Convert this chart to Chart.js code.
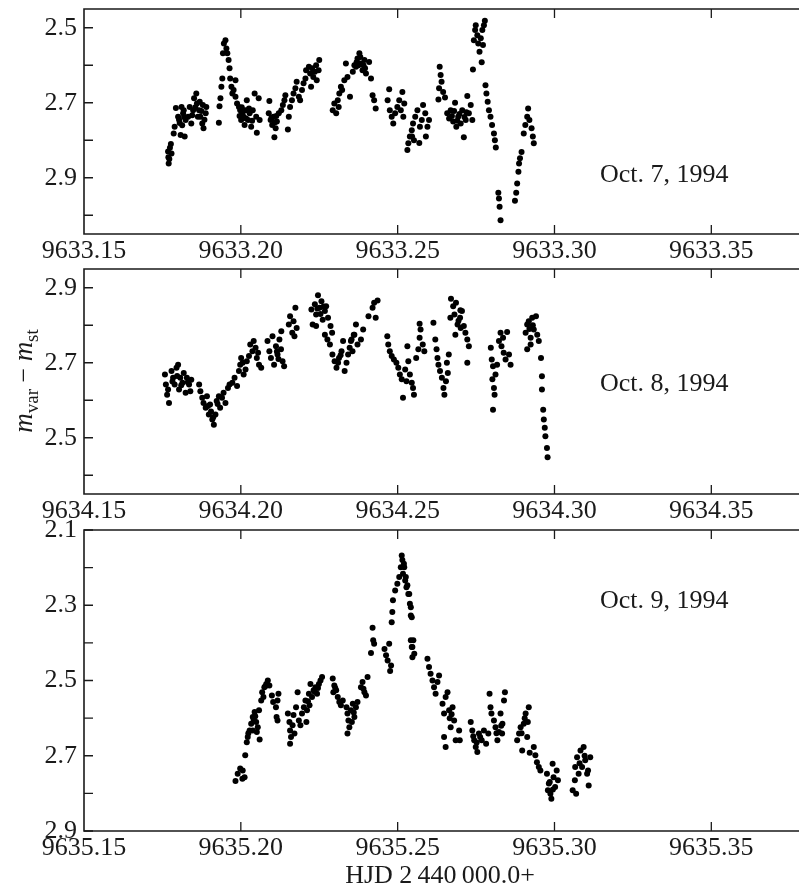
<!DOCTYPE html>
<html>
<head>
<meta charset="utf-8">
<script src="https://cdn.jsdelivr.net/npm/chart.js@4.4.1/dist/chart.umd.min.js"></script>
<style>
  html, body { margin: 0; padding: 0; background: #fff; }
  #lienzo { position: relative; width: 799px; height: 890px; overflow: hidden; }
  #lienzo canvas { position: absolute; left: 0; }
</style>
</head>
<body>
<div id="lienzo">
  <canvas id="panelOct7" width="799" height="270" style="top:0px"></canvas>
  <canvas id="panelOct8" width="799" height="270" style="top:260px"></canvas>
  <canvas id="panelOct9" width="799" height="380" style="top:510px"></canvas>
</div>
<script>
// HJD - 2440000: dia entero + fraccion, magnitud m_var - m_st
const diaOct7 = 9633;
const diaOct8 = 9634;
const diaOct9 = 9635;

const ticksX = [0.15, 0.20, 0.25, 0.30, 0.35];
const ticksYOct7 = [2.5, 2.6, 2.7, 2.8, 2.9, 3.0];
const ticksYOct8 = [2.4, 2.5, 2.6, 2.7, 2.8, 2.9];
const ticksYOct9 = [2.1, 2.2, 2.3, 2.4, 2.5, 2.6, 2.7, 2.8, 2.9];

const datosOct7 = [
  [0.1768,2.830],[0.1769,2.845],[0.1770,2.862],[0.1772,2.850],[0.1774,2.820],[0.1777,2.810],[0.1779,2.835],
  [0.1786,2.782],[0.1789,2.764],[0.1793,2.714],[0.1800,2.737],[0.1803,2.745],[0.1805,2.754],[0.1808,2.786],[0.1811,2.711],
  [0.1813,2.760],[0.1816,2.728],[0.1818,2.720],[0.1819,2.738],[0.1821,2.790],[0.1824,2.746],
  [0.1832,2.737],[0.1837,2.711],[0.1842,2.755],[0.1845,2.733],[0.1848,2.720],[0.1851,2.688],[0.1855,2.712],[0.1858,2.675],
  [0.1860,2.702],[0.1863,2.737],[0.1867,2.720],[0.1869,2.697],[0.1871,2.737],[0.1874,2.722],[0.1877,2.755],[0.1879,2.706],
  [0.1881,2.768],[0.1884,2.745],[0.1888,2.728],[0.1890,2.711],
  [0.1930,2.753],[0.1932,2.709],[0.1935,2.688],[0.1938,2.657],[0.1941,2.635],[0.1943,2.568],[0.1946,2.542],[0.1951,2.533],
  [0.1954,2.555],[0.1957,2.568],[0.1961,2.586],[0.1964,2.608],[0.1966,2.635],[0.1970,2.657],[0.1983,2.640],
  [0.1973,2.675],[0.1977,2.666],[0.1983,2.684],[0.1988,2.702],[0.1994,2.711],[0.1996,2.735],[0.1998,2.720],[0.2001,2.746],
  [0.2003,2.712],[0.2005,2.728],[0.2009,2.737],[0.2012,2.759],[0.2015,2.720],[0.2017,2.742],[0.2019,2.693],[0.2023,2.746],
  [0.2026,2.715],[0.2028,2.728],[0.2033,2.764],[0.2036,2.748],[0.2038,2.720],[0.2044,2.675],[0.2049,2.737],[0.2051,2.780],
  [0.2057,2.688],[0.2060,2.746],
  [0.2089,2.728],[0.2091,2.695],[0.2095,2.746],[0.2098,2.740],[0.2100,2.759],[0.2104,2.737],[0.2107,2.792],[0.2109,2.752],
  [0.2111,2.768],[0.2113,2.735],[0.2115,2.750],[0.2121,2.728],
  [0.2129,2.720],[0.2134,2.706],[0.2139,2.693],[0.2142,2.680],[0.2150,2.771],[0.2153,2.737],[0.2157,2.711],[0.2163,2.693],
  [0.2168,2.675],[0.2174,2.661],[0.2178,2.644],[0.2185,2.684],[0.2189,2.693],[0.2195,2.666],[0.2200,2.648],[0.2206,2.635],
  [0.2208,2.613],[0.2217,2.604],[0.2221,2.622],[0.2224,2.657],[0.2227,2.608],[0.2231,2.631],[0.2236,2.617],[0.2240,2.600],
  [0.2242,2.640],[0.2248,2.613],[0.2250,2.586],
  [0.2293,2.720],[0.2298,2.702],[0.2304,2.728],[0.2309,2.693],[0.2312,2.711],[0.2314,2.675],[0.2319,2.657],[0.2323,2.666],
  [0.2330,2.640],[0.2335,2.595],[0.2340,2.631],[0.2348,2.684],[0.2357,2.617],[0.2362,2.600],[0.2367,2.604],[0.2369,2.592],
  [0.2372,2.582],[0.2375,2.600],[0.2378,2.568],[0.2381,2.578],[0.2383,2.595],[0.2388,2.613],[0.2391,2.600],[0.2394,2.586],
  [0.2396,2.608],[0.2399,2.622],[0.2409,2.591],[0.2415,2.635],
  [0.2420,2.680],[0.2425,2.693],[0.2430,2.715],[0.2468,2.693],[0.2473,2.664],
  [0.2475,2.720],[0.2481,2.737],[0.2486,2.755],[0.2492,2.728],[0.2499,2.711],[0.2505,2.693],[0.2510,2.720],[0.2515,2.671],
  [0.2518,2.737],[0.2521,2.702],
  [0.2531,2.826],[0.2534,2.808],[0.2539,2.790],[0.2545,2.773],[0.2546,2.790],[0.2549,2.755],[0.2552,2.800],[0.2556,2.737],
  [0.2563,2.720],[0.2569,2.807],[0.2571,2.764],[0.2577,2.746],[0.2581,2.706],[0.2588,2.728],[0.2590,2.790],[0.2595,2.764],
  [0.2600,2.746],
  [0.2630,2.691],[0.2632,2.661],[0.2634,2.604],[0.2637,2.626],[0.2640,2.644],[0.2645,2.671],[0.2651,2.686],
  [0.2658,2.728],[0.2664,2.742],[0.2669,2.720],[0.2673,2.735],[0.2677,2.750],[0.2680,2.722],[0.2683,2.700],[0.2687,2.764],
  [0.2690,2.748],[0.2693,2.737],[0.2697,2.730],[0.2701,2.755],[0.2706,2.720],[0.2711,2.792],[0.2713,2.738],[0.2717,2.746],
  [0.2719,2.725],[0.2722,2.682],[0.2727,2.728],[0.2733,2.706],[0.2738,2.746],
  [0.2740,2.611],[0.2743,2.533],[0.2747,2.506],[0.2749,2.493],[0.2754,2.520],[0.2757,2.542],[0.2761,2.564],[0.2765,2.528],
  [0.2768,2.592],[0.2770,2.506],[0.2772,2.546],[0.2775,2.493],[0.2778,2.481],
  [0.2780,2.653],[0.2783,2.675],[0.2787,2.697],[0.2791,2.720],[0.2796,2.737],[0.2801,2.759],[0.2807,2.782],[0.2810,2.800],
  [0.2813,2.819],
  [0.2821,2.940],[0.2823,2.955],[0.2825,2.977],[0.2828,3.013],
  [0.2874,2.961],[0.2878,2.940],[0.2881,2.915],[0.2885,2.884],[0.2887,2.862],[0.2890,2.848],[0.2895,2.831],
  [0.2902,2.782],[0.2907,2.759],[0.2913,2.737],[0.2916,2.715],[0.2920,2.746],[0.2927,2.768],[0.2931,2.790],[0.2934,2.808]
];

const datosOct8 = [
  [0.1758,2.669],[0.1761,2.642],[0.1765,2.615],[0.1768,2.629],[0.1771,2.593],[0.1779,2.678],[0.1782,2.650],[0.1784,2.660],
  [0.1789,2.642],[0.1795,2.687],[0.1797,2.665],[0.1800,2.695],[0.1803,2.629],[0.1807,2.660],[0.1810,2.640],[0.1814,2.647],
  [0.1818,2.673],[0.1824,2.620],[0.1828,2.660],[0.1831,2.648],[0.1835,2.642],[0.1839,2.624],[0.1842,2.655],
  [0.1867,2.642],[0.1871,2.624],[0.1877,2.607],[0.1881,2.593],[0.1888,2.580],[0.1892,2.611],[0.1895,2.585],[0.1898,2.562],
  [0.1902,2.589],[0.1905,2.570],[0.1909,2.549],[0.1912,2.555],[0.1914,2.535],[0.1919,2.562],[0.1923,2.598],[0.1926,2.590],
  [0.1930,2.611],[0.1934,2.580],[0.1940,2.607],[0.1945,2.620],[0.1951,2.593],[0.1959,2.633],[0.1964,2.642],
  [0.1973,2.647],[0.1980,2.660],[0.1988,2.638],[0.1994,2.678],[0.1998,2.695],[0.2001,2.713],[0.2006,2.700],[0.2009,2.669],
  [0.2015,2.682],[0.2019,2.704],[0.2026,2.718],[0.2030,2.749],[0.2037,2.731],[0.2041,2.758],[0.2047,2.740],[0.2051,2.713],
  [0.2055,2.727],[0.2058,2.695],[0.2065,2.687],
  [0.2085,2.758],[0.2091,2.731],[0.2096,2.713],[0.2101,2.771],[0.2106,2.695],[0.2112,2.744],[0.2115,2.730],[0.2117,2.722],
  [0.2120,2.710],[0.2123,2.762],[0.2128,2.736],[0.2129,2.784],[0.2133,2.704],[0.2138,2.691],
  [0.2153,2.802],[0.2157,2.824],[0.2164,2.780],[0.2168,2.811],[0.2171,2.771],[0.2174,2.847],[0.2178,2.793],
  [0.2225,2.842],[0.2229,2.802],[0.2236,2.856],[0.2240,2.829],[0.2240,2.798],[0.2244,2.845],[0.2246,2.880],[0.2251,2.847],
  [0.2254,2.830],[0.2257,2.864],[0.2261,2.815],[0.2264,2.850],[0.2268,2.838],[0.2272,2.851],[0.2278,2.820],[0.2286,2.798],
  [0.2291,2.780],
  [0.2268,2.775],[0.2276,2.762],[0.2284,2.749],[0.2292,2.722],[0.2299,2.704],[0.2305,2.687],[0.2310,2.700],[0.2313,2.713],
  [0.2318,2.720],[0.2321,2.731],[0.2326,2.758],[0.2331,2.678],[0.2337,2.700],[0.2342,2.722],[0.2347,2.740],[0.2353,2.762],
  [0.2360,2.775],[0.2367,2.802],
  [0.2351,2.758],[0.2356,2.731],[0.2362,2.775],[0.2372,2.749],[0.2383,2.762],[0.2390,2.789],
  [0.2407,2.824],[0.2420,2.847],[0.2425,2.860],[0.2430,2.820],[0.2436,2.866],
  [0.2467,2.771],[0.2470,2.749],[0.2475,2.731],[0.2481,2.718],[0.2488,2.709],[0.2496,2.700],[0.2502,2.687],[0.2507,2.669],
  [0.2513,2.656],[0.2517,2.607],[0.2524,2.682],[0.2528,2.651],[0.2531,2.744],[0.2534,2.704],[0.2539,2.669],[0.2545,2.647],
  [0.2549,2.633],[0.2552,2.615],
  [0.2559,2.713],[0.2566,2.736],[0.2570,2.767],[0.2573,2.789],[0.2570,2.804],[0.2580,2.749],[0.2585,2.731],
  [0.2614,2.807],[0.2620,2.762],[0.2624,2.736],[0.2627,2.713],[0.2630,2.695],[0.2635,2.678],[0.2641,2.660],[0.2646,2.633],
  [0.2649,2.615],[0.2654,2.651],[0.2657,2.700],[0.2660,2.673],[0.2663,2.722],
  [0.2668,2.820],[0.2670,2.871],[0.2677,2.851],[0.2681,2.829],[0.2684,2.775],[0.2686,2.860],[0.2691,2.802],[0.2694,2.812],
  [0.2699,2.820],[0.2700,2.840],[0.2701,2.793],[0.2705,2.838],[0.2711,2.798],[0.2716,2.780],[0.2722,2.762],[0.2722,2.700],
  [0.2727,2.744],
  [0.2797,2.740],[0.2800,2.709],[0.2802,2.656],[0.2804,2.691],[0.2804,2.575],[0.2807,2.633],[0.2809,2.615],[0.2812,2.669],
  [0.2817,2.695],[0.2823,2.758],[0.2828,2.780],[0.2831,2.744],[0.2836,2.767],[0.2838,2.727],[0.2844,2.709],[0.2849,2.782],
  [0.2855,2.722],[0.2860,2.695],
  [0.2908,2.780],[0.2913,2.802],[0.2913,2.736],[0.2918,2.811],[0.2920,2.790],[0.2924,2.767],[0.2924,2.749],[0.2929,2.820],
  [0.2931,2.800],[0.2934,2.789],[0.2941,2.824],[0.2945,2.775],[0.2950,2.758],
  [0.2957,2.713],[0.2960,2.664],[0.2960,2.629],[0.2964,2.575],[0.2966,2.549],[0.2969,2.527],[0.2971,2.504],[0.2976,2.473],
  [0.2978,2.448]
];

const datosOct9 = [
  [0.1983,2.767],[0.1990,2.748],[0.1998,2.734],[0.2005,2.761],[0.2006,2.739],[0.2012,2.757],
  [0.2014,2.699],[0.2019,2.664],[0.2022,2.650],[0.2024,2.640],[0.2028,2.633],[0.2033,2.615],[0.2038,2.597],[0.2038,2.633],
  [0.2041,2.605],[0.2044,2.584],[0.2046,2.595],[0.2049,2.610],[0.2051,2.637],[0.2054,2.624],[0.2058,2.579],[0.2060,2.657],
  [0.2065,2.553],[0.2068,2.531],[0.2072,2.544],[0.2075,2.518],[0.2078,2.515],[0.2081,2.509],[0.2084,2.510],[0.2086,2.500],
  [0.2091,2.513],
  [0.2099,2.540],[0.2103,2.557],[0.2112,2.571],[0.2114,2.597],[0.2117,2.553],[0.2117,2.606],[0.2120,2.535],
  [0.2150,2.588],[0.2155,2.610],[0.2157,2.633],[0.2157,2.668],[0.2160,2.650],[0.2165,2.619],[0.2168,2.592],[0.2171,2.641],
  [0.2176,2.571],[0.2181,2.531],[0.2185,2.606],
  [0.2190,2.619],[0.2195,2.588],[0.2201,2.571],[0.2206,2.553],[0.2209,2.610],[0.2211,2.579],[0.2214,2.555],[0.2217,2.535],
  [0.2219,2.566],[0.2222,2.509],[0.2227,2.544],[0.2232,2.526],[0.2235,2.530],[0.2238,2.518],[0.2243,2.535],[0.2246,2.520],
  [0.2249,2.509],[0.2254,2.500],[0.2259,2.491],
  [0.2293,2.495],[0.2295,2.531],[0.2298,2.513],[0.2301,2.520],[0.2304,2.526],[0.2309,2.544],[0.2314,2.557],[0.2319,2.566],
  [0.2325,2.553],
  [0.2337,2.571],[0.2340,2.588],[0.2340,2.641],[0.2343,2.606],[0.2346,2.624],[0.2351,2.579],[0.2354,2.610],[0.2357,2.562],
  [0.2360,2.585],[0.2362,2.597],[0.2367,2.571],[0.2372,2.557],
  [0.2383,2.518],[0.2388,2.504],[0.2391,2.522],[0.2394,2.531],[0.2399,2.540],[0.2404,2.491],
  [0.2415,2.427],[0.2420,2.360],[0.2422,2.393],[0.2425,2.402],
  [0.2458,2.416],[0.2463,2.433],[0.2468,2.447],[0.2473,2.402],[0.2476,2.475],[0.2479,2.460],
  [0.2481,2.345],[0.2483,2.318],[0.2485,2.287],[0.2492,2.261],[0.2499,2.243],[0.2505,2.225],[0.2510,2.199],[0.2513,2.168],
  [0.2515,2.180],[0.2517,2.216],[0.2520,2.190],[0.2521,2.199],[0.2524,2.234],[0.2526,2.225],[0.2528,2.252],[0.2531,2.247],
  [0.2534,2.270],[0.2537,2.270],[0.2539,2.296],[0.2542,2.327],[0.2542,2.305],[0.2545,2.332],
  [0.2542,2.393],[0.2545,2.411],[0.2547,2.438],[0.2550,2.393],[0.2553,2.429],[0.2547,2.411],
  [0.2595,2.442],[0.2600,2.464],[0.2605,2.482],[0.2611,2.500],[0.2616,2.518],[0.2621,2.535],[0.2627,2.504],[0.2632,2.487],
  [0.2643,2.562],[0.2648,2.588],[0.2648,2.650],[0.2653,2.544],[0.2653,2.677],[0.2659,2.531],[0.2664,2.579],[0.2666,2.600],
  [0.2669,2.624],[0.2672,2.590],[0.2675,2.571],[0.2680,2.606],[0.2685,2.659],
  [0.2696,2.633],[0.2698,2.659],
  [0.2733,2.610],[0.2738,2.633],[0.2741,2.648],[0.2744,2.659],[0.2749,2.677],[0.2752,2.665],[0.2754,2.690],[0.2759,2.641],
  [0.2763,2.650],[0.2768,2.659],[0.2775,2.633],[0.2782,2.668],[0.2789,2.641],[0.2793,2.535],[0.2796,2.571],
  [0.2799,2.588],[0.2807,2.606],[0.2812,2.624],[0.2815,2.640],[0.2818,2.659],[0.2823,2.637],[0.2828,2.588],[0.2830,2.620],
  [0.2833,2.641],[0.2834,2.615],[0.2839,2.553],[0.2842,2.531],
  [0.2881,2.659],[0.2887,2.641],[0.2892,2.624],[0.2895,2.640],[0.2897,2.686],[0.2902,2.615],[0.2905,2.600],[0.2908,2.588],
  [0.2913,2.650],[0.2915,2.610],[0.2918,2.571],[0.2921,2.692],
  [0.2934,2.677],[0.2939,2.699],[0.2944,2.717],[0.2950,2.730],[0.2955,2.739],
  [0.2976,2.748],[0.2979,2.792],[0.2982,2.774],[0.2985,2.770],[0.2987,2.801],[0.2990,2.814],[0.2994,2.721],[0.2995,2.790],
  [0.2997,2.757],[0.3002,2.783],[0.3007,2.739],[0.3011,2.765],
  [0.3058,2.792],[0.3065,2.765],[0.3066,2.730],[0.3069,2.801],[0.3072,2.704],[0.3077,2.748],[0.3080,2.720],[0.3083,2.686],
  [0.3088,2.730],[0.3093,2.677],[0.3096,2.700],[0.3098,2.712],[0.3104,2.748],[0.3107,2.739],[0.3109,2.779],[0.3114,2.704]
];

const FUENTE = '"Liberation Serif", "Times New Roman", serif';
const TINTA = '#1a1a1a';

// marco con ticks hacia adentro, sin borde derecho (queda fuera de la imagen)
const marcoPanel = {
  id: 'marcoPanel',
  afterDraw(chart, args, o) {
    const { ctx, chartArea: a, scales } = chart;
    ctx.save();
    ctx.strokeStyle = TINTA;
    ctx.lineWidth = 1.6;
    ctx.beginPath();
    ctx.moveTo(a.right + 5, a.top);
    ctx.lineTo(a.left, a.top);
    ctx.lineTo(a.left, a.bottom);
    ctx.lineTo(a.right + 5, a.bottom);
    ctx.stroke();

    ctx.lineWidth = 1.3;
    ctx.beginPath();
    scales.x.ticks.forEach(t => {
      const px = scales.x.getPixelForValue(t.value);
      if (px <= a.left + 1) return;
      ctx.moveTo(px, a.bottom);
      ctx.lineTo(px, a.bottom - 9);
      ctx.moveTo(px, a.top);
      ctx.lineTo(px, a.top + 9);
    });
    scales.y.ticks.forEach(t => {
      const py = scales.y.getPixelForValue(t.value);
      ctx.moveTo(a.left, py);
      ctx.lineTo(a.left + 9, py);
    });
    ctx.stroke();

    ctx.fillStyle = TINTA;
    ctx.font = '26px ' + FUENTE;
    ctx.textBaseline = 'middle';
    ctx.fillText(o.fecha, o.fx, o.fy);

    if (o.tituloY) {
      ctx.translate(o.tituloY.x, o.tituloY.y);
      ctx.rotate(-Math.PI / 2);
      ctx.textBaseline = 'alphabetic';
      const partes = [
        ['m', 'italic 27px ' + FUENTE, 0],
        ['var', '19px ' + FUENTE, 6],
        [' \u2212 ', '26px ' + FUENTE, 0],
        ['m', 'italic 27px ' + FUENTE, 0],
        ['st', '19px ' + FUENTE, 6]
      ];
      let ancho = 0;
      partes.forEach(p => { ctx.font = p[1]; ancho += ctx.measureText(p[0]).width; });
      let cx = -ancho / 2;
      partes.forEach(p => {
        ctx.font = p[1];
        ctx.fillText(p[0], cx, 9 + p[2]);
        cx += ctx.measureText(p[0]).width;
      });
    }
    ctx.restore();
  }
};

function crearPanel(id, dia, datos, cfg) {
  const ctx = document.getElementById(id).getContext('2d');
  return new Chart(ctx, {
    type: 'scatter',
    data: {
      datasets: [{
        data: datos.map(p => ({ x: p[0], y: p[1] })),
        backgroundColor: '#000',
        borderWidth: 0,
        pointRadius: 3,
        pointHoverRadius: 3
      }]
    },
    options: {
      responsive: false,
      animation: false,
      events: [],
      layout: { padding: { top: cfg.arriba, left: 0, right: 0, bottom: 0 } },
      scales: {
        x: {
          type: 'linear',
          min: 0.15,
          max: 0.377,
          afterBuildTicks: s => { s.ticks = ticksX.map(v => ({ value: v })); },
          afterFit: s => { s.height = cfg.altoX; s.paddingLeft = 0; s.paddingRight = 0; },
          grid: { display: false, drawTicks: false },
          border: { display: false },
          ticks: {
            autoSkip: false,
            maxRotation: 0,
            padding: 2,
            color: TINTA,
            font: { family: FUENTE, size: 26 },
            callback: v => (dia + v).toFixed(2)
          },
          title: {
            display: !!cfg.tituloX,
            text: cfg.tituloX || '',
            color: TINTA,
            font: { family: FUENTE, size: 26, lineHeight: 1.1 },
            padding: { top: 0, bottom: 0 }
          }
        },
        y: {
          type: 'linear',
          min: cfg.yMin,
          max: cfg.yMax,
          reverse: cfg.invertido,
          afterBuildTicks: s => { s.ticks = cfg.ticksY.map(v => ({ value: v })); },
          afterFit: s => { s.width = 84; s.paddingTop = 0; s.paddingBottom = 0; },
          grid: { display: false, drawTicks: false },
          border: { display: false },
          ticks: {
            autoSkip: false,
            padding: 7,
            color: TINTA,
            font: { family: FUENTE, size: 26 },
            callback: v => (Math.round(v * 10) % 2 === 1 ? v.toFixed(1) : '')
          }
        }
      },
      plugins: {
        legend: { display: false },
        tooltip: { enabled: false },
        marcoPanel: cfg.marco
      }
    },
    plugins: [marcoPanel]
  });
}

crearPanel('panelOct7', diaOct7, datosOct7, {
  arriba: 9, altoX: 36, yMin: 2.45, yMax: 3.05, invertido: true, ticksY: ticksYOct7,
  marco: { fecha: 'Oct. 7, 1994', fx: 600, fy: 175 }
});

crearPanel('panelOct8', diaOct8, datosOct8, {
  arriba: 9, altoX: 36, yMin: 2.35, yMax: 2.95, invertido: false, ticksY: ticksYOct8,
  marco: { fecha: 'Oct. 8, 1994', fx: 600, fy: 124, tituloY: { x: 23, y: 121 } }
});

crearPanel('panelOct9', diaOct9, datosOct9, {
  arriba: 20, altoX: 59, yMin: 2.1, yMax: 2.9, invertido: true, ticksY: ticksYOct9,
  tituloX: 'HJD 2\u2009440\u2009000.0+',
  marco: { fecha: 'Oct. 9, 1994', fx: 600, fy: 91 }
});
</script>
</body>
</html>
